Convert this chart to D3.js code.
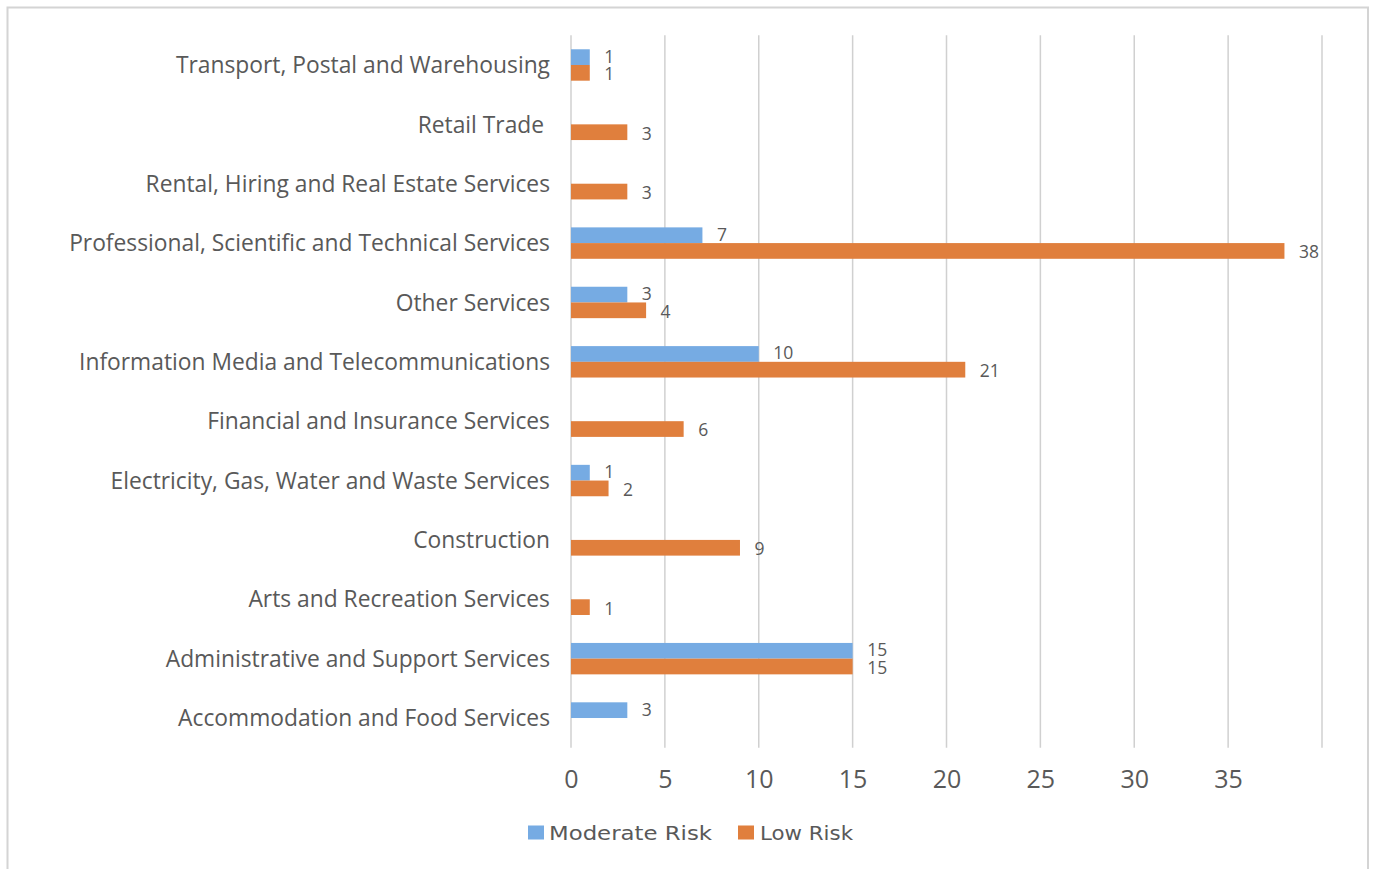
<!DOCTYPE html>
<html>
<head>
<meta charset="utf-8">
<script src="https://cdn.jsdelivr.net/npm/d3@7"></script>
<style>
  body { margin: 0; background: #fff; }
  svg { display: block; }
  text { fill: #595959; }
</style>
</head>
<body>
<svg id="chart" width="1375" height="869"></svg>
<script>
const categories = [
  "Transport, Postal and Warehousing",
  "Retail Trade ",
  "Rental, Hiring and Real Estate Services",
  "Professional, Scientific and Technical Services",
  "Other Services",
  "Information Media and Telecommunications",
  "Financial and Insurance Services",
  "Electricity, Gas, Water and Waste Services",
  "Construction",
  "Arts and Recreation Services",
  "Administrative and Support Services",
  "Accommodation and Food Services"
];
const seriesNames = ["Moderate Risk", "Low Risk"];
const moderateRisk = [1, null, null, 7, 3, 10, null, 1, null, null, 15, 3];
const lowRisk = [1, 3, 3, 38, 4, 21, 6, 2, 9, 1, 15, null];
const xTicks = [0, 5, 10, 15, 20, 25, 30, 35];
const gridValues = [0, 5, 10, 15, 20, 25, 30, 35, 40];
const colors = ["#76abe3", "#e07f3d"];

(function () {
const svg = d3.select("#chart");

// outer frame
svg.append("rect").attr("x", 7.5).attr("y", 7.5).attr("width", 1360.5).attr("height", 880)
  .attr("fill", "none").attr("stroke", "#d4d4d4").attr("stroke-width", 2);

const pLeft = 571, pRight = 1322, pTop = 35.3, pBottom = 747.7;
const x = d3.scaleLinear().domain([0, 40]).range([pLeft, pRight]);
const y = d3.scaleBand().domain(categories).range([pTop, pBottom]).padding(0);
const inner = d3.scaleBand().domain(seriesNames).range([0, y.bandwidth()]).paddingInner(0).paddingOuter(0.89);

// gridlines
svg.append("g").selectAll("line").data(gridValues).join("line")
  .attr("x1", d => x(d)).attr("x2", d => x(d))
  .attr("y1", pTop).attr("y2", pBottom)
  .attr("stroke", "#d0d0d0").attr("stroke-width", 1.5);

// category labels
svg.append("g").selectAll("text").data(categories).join("text")
  .attr("x", 550).attr("y", d => y(d) + y.bandwidth() / 2 + 8.2)
  .attr("text-anchor", "end")
  .style("white-space", "pre")
  .style("font-family", "'Open Sans', sans-serif").style("font-size", "22.8px")
  .text(d => d);

const series = [moderateRisk, lowRisk];
const labelShift = [-0.8, 1.2];
series.forEach((vals, si) => {
  const data = categories.map((c, i) => ({ c, v: vals[i] })).filter(d => d.v != null);
  const g = svg.append("g");
  g.selectAll("rect").data(data).join("rect")
    .attr("x", x(0)).attr("y", d => y(d.c) + inner(seriesNames[si]))
    .attr("width", d => x(d.v) - x(0)).attr("height", inner.bandwidth())
    .attr("fill", colors[si]);
  g.selectAll("text").data(data).join("text")
    .attr("x", d => x(d.v) + 14.5)
    .attr("y", d => y(d.c) + inner(seriesNames[si]) + inner.bandwidth() / 2 + 6.2 + labelShift[si])
    .style("font-family", "'Open Sans', sans-serif").style("font-size", "17.5px")
    .text(d => d.v);
});

// x axis labels
const xAxis = d3.axisBottom(x).tickValues(xTicks).tickSize(0).tickPadding(0);
const ax = svg.append("g").attr("transform", "translate(0, 788)").call(xAxis);
ax.select(".domain").remove();
ax.selectAll("text").style("font-family", "'Open Sans', sans-serif").style("font-size", "25px")
  .attr("fill", "#595959").attr("dy", "0").attr("y", 0);

// legend
const legend = svg.append("g");
const legItems = [
  { n: "Moderate Risk", c: colors[0], sx: 528, tx: 549, w: 163 },
  { n: "Low Risk", c: colors[1], sx: 738, tx: 760, w: 93 }
];
legItems.forEach(it => {
  legend.append("rect").attr("x", it.sx).attr("y", 825.5).attr("width", 16).attr("height", 14).attr("fill", it.c);
  legend.append("text").attr("x", it.tx).attr("y", 839.5)
    .attr("textLength", it.w).attr("lengthAdjust", "spacingAndGlyphs")
    .style("font-family", "'DejaVu Sans', sans-serif").style("font-size", "20px").text(it.n);
});
})();
</script>
</body>
</html>
